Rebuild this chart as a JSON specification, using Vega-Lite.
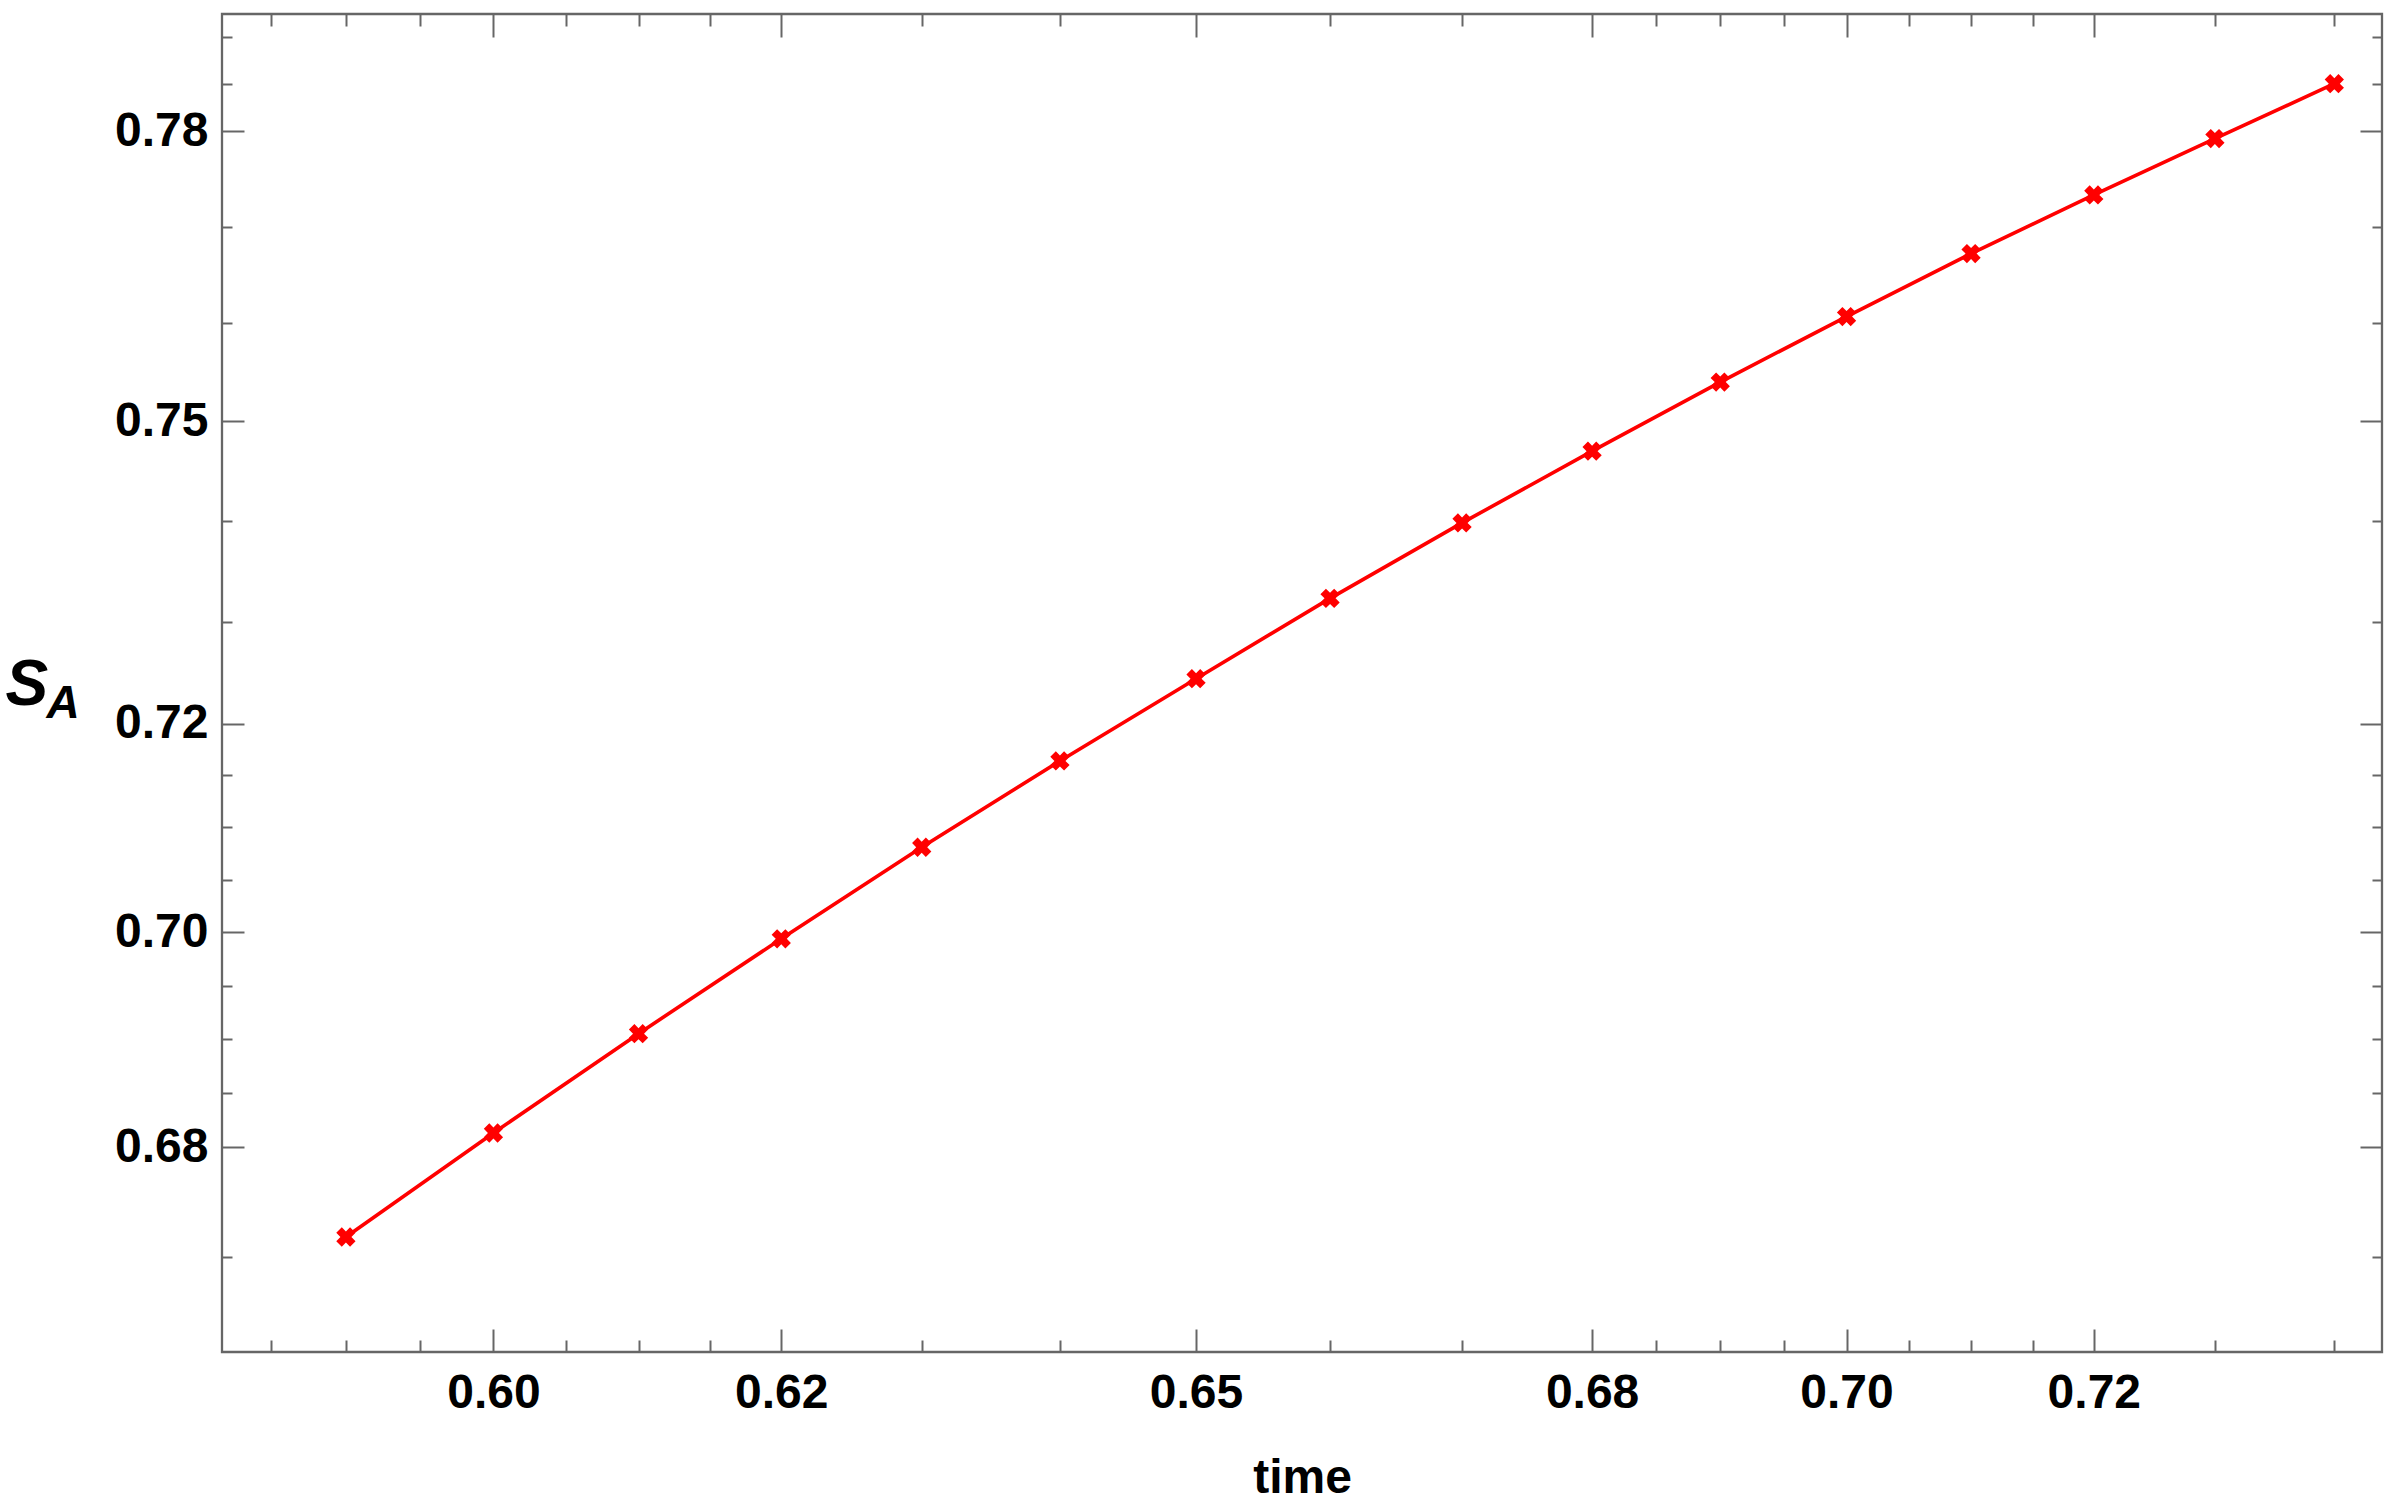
{
  "$schema": "https://vega.github.io/schema/vega-lite/v6.json",
  "width": 2160,
  "height": 1338,
  "autosize": "none",
  "padding": {"left": 222, "top": 14, "right": 18, "bottom": 157},
  "background": "white",
  "config": {
    "view": {"stroke": "#666666", "strokeWidth": 2.3},
    "font": "Liberation Sans"
  },
  "data": {
    "values": [
      {"time": 0.59, "SA": 0.6718},
      {"time": 0.60, "SA": 0.6813},
      {"time": 0.61, "SA": 0.6905},
      {"time": 0.62, "SA": 0.6994},
      {"time": 0.63, "SA": 0.7081},
      {"time": 0.64, "SA": 0.7164},
      {"time": 0.65, "SA": 0.7244},
      {"time": 0.66, "SA": 0.7323},
      {"time": 0.67, "SA": 0.7398},
      {"time": 0.68, "SA": 0.7470},
      {"time": 0.69, "SA": 0.7540},
      {"time": 0.70, "SA": 0.7607},
      {"time": 0.71, "SA": 0.7672},
      {"time": 0.72, "SA": 0.7733},
      {"time": 0.73, "SA": 0.7792},
      {"time": 0.74, "SA": 0.7850}
    ]
  },
  "resolve": {"axis": {"x": "independent", "y": "independent"}},
  "layer": [
    {
      "mark": {"type": "line", "color": "#ff0000", "strokeWidth": 3.6},
      "encoding": {
        "x": {
          "field": "time", "type": "quantitative",
          "scale": {"type": "log", "domain": [0.58173, 0.74403], "nice": false, "zero": false},
          "axis": {
            "orient": "bottom", "values": [0.6, 0.62, 0.65, 0.68, 0.7, 0.72], "format": ".2f",
            "ticks": false, "tickSize": 0, "domain": false, "grid": false,
            "labelPadding": 17, "labelFont": "Liberation Sans", "labelFontWeight": "bold",
            "labelFontSize": 48, "labelColor": "#000000", "labelFlush": false, "labelOverlap": false,
            "title": "time", "titleFont": "Liberation Sans", "titleFontWeight": "bold",
            "titleFontSize": 48, "titleColor": "#000000", "titlePadding": 37
          }
        },
        "y": {
          "field": "SA", "type": "quantitative",
          "scale": {"type": "log", "domain": [0.66145, 0.79242], "nice": false, "zero": false},
          "axis": {
            "orient": "left", "values": [0.68, 0.7, 0.72, 0.75, 0.78], "format": ".2f",
            "ticks": false, "tickSize": 0, "domain": false, "grid": false,
            "labelPadding": 14, "labelFont": "Liberation Sans", "labelFontWeight": "bold",
            "labelFontSize": 48, "labelColor": "#000000", "labelFlush": false, "labelOverlap": false,
            "title": "S", "titleFont": "Liberation Sans", "titleFontWeight": "bold", "titleFontStyle": "italic",
            "titleFontSize": 64, "titleColor": "#000000", "titleAngle": 0, "titleAlign": "left",
            "titleBaseline": "alphabetic", "titleX": -217, "titleY": 690
          }
        }
      }
    },
    {
      "mark": {"type": "point", "shape": "cross", "angle": 45, "filled": true, "color": "#ff0000", "size": 380, "opacity": 1},
      "encoding": {
        "x": {
          "field": "time", "type": "quantitative",
          "scale": {"type": "log", "domain": [0.58173, 0.74403], "nice": false, "zero": false},
          "axis": {
            "orient": "bottom",
            "values": [0.585, 0.59, 0.595, 0.6, 0.605, 0.61, 0.615, 0.62, 0.63, 0.64, 0.65, 0.66, 0.67, 0.68, 0.685, 0.69, 0.695, 0.7, 0.705, 0.71, 0.715, 0.72, 0.73, 0.74],
            "labels": false, "domain": false, "grid": false, "ticks": true,
            "tickSize": {"condition": {"test": "indexof([0.6, 0.62, 0.65, 0.68, 0.7, 0.72], datum.value) >= 0", "value": -23}, "value": -12},
            "tickColor": "#666666", "tickWidth": 2, "title": null
          }
        },
        "y": {
          "field": "SA", "type": "quantitative",
          "scale": {"type": "log", "domain": [0.66145, 0.79242], "nice": false, "zero": false},
          "axis": {
            "orient": "left",
            "values": [0.67, 0.68, 0.685, 0.69, 0.695, 0.7, 0.705, 0.71, 0.715, 0.72, 0.73, 0.74, 0.75, 0.76, 0.77, 0.78, 0.785, 0.79],
            "labels": false, "domain": false, "grid": false, "ticks": true,
            "tickSize": {"condition": {"test": "indexof([0.68, 0.7, 0.72, 0.75, 0.78], datum.value) >= 0", "value": -22}, "value": -10},
            "tickColor": "#666666", "tickWidth": 2,
            "title": "A", "titleFont": "Liberation Sans", "titleFontWeight": "bold", "titleFontStyle": "italic",
            "titleFontSize": 46, "titleColor": "#000000", "titleAngle": 0, "titleAlign": "left",
            "titleBaseline": "alphabetic", "titleX": -176, "titleY": 703
          }
        }
      }
    },
    {
      "mark": {"type": "point", "shape": "cross", "angle": 45, "filled": true, "color": "#ff0000", "size": 380, "opacity": 0},
      "encoding": {
        "x": {
          "field": "time", "type": "quantitative",
          "scale": {"type": "log", "domain": [0.58173, 0.74403], "nice": false, "zero": false},
          "axis": {
            "orient": "top",
            "values": [0.585, 0.59, 0.595, 0.6, 0.605, 0.61, 0.615, 0.62, 0.63, 0.64, 0.65, 0.66, 0.67, 0.68, 0.685, 0.69, 0.695, 0.7, 0.705, 0.71, 0.715, 0.72, 0.73, 0.74],
            "labels": false, "domain": false, "grid": false, "ticks": true,
            "tickSize": {"condition": {"test": "indexof([0.6, 0.62, 0.65, 0.68, 0.7, 0.72], datum.value) >= 0", "value": -23}, "value": -12},
            "tickColor": "#666666", "tickWidth": 2, "title": null
          }
        },
        "y": {
          "field": "SA", "type": "quantitative",
          "scale": {"type": "log", "domain": [0.66145, 0.79242], "nice": false, "zero": false},
          "axis": {
            "orient": "right",
            "values": [0.67, 0.68, 0.685, 0.69, 0.695, 0.7, 0.705, 0.71, 0.715, 0.72, 0.73, 0.74, 0.75, 0.76, 0.77, 0.78, 0.785, 0.79],
            "labels": false, "domain": false, "grid": false, "ticks": true,
            "tickSize": {"condition": {"test": "indexof([0.68, 0.7, 0.72, 0.75, 0.78], datum.value) >= 0", "value": -22}, "value": -10},
            "tickColor": "#666666", "tickWidth": 2, "title": null
          }
        }
      }
    }
  ]
}
